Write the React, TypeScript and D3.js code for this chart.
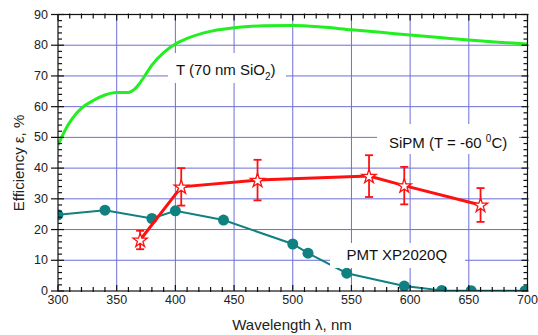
import React from "react";
import * as d3 from "d3";

// Transmission curve T (70 nm SiO2)
const tWave = [300, 303, 307, 312, 320, 330, 340, 350, 360, 365, 369, 373, 380, 390, 400, 410, 425, 450, 475, 500, 525, 550, 575, 600, 625, 650, 675, 700];
const tVal = [47.5, 50, 53, 56, 59.5, 62, 63.8, 64.6, 64.6, 65.6, 67.3, 69.5, 73.5, 77.6, 80.4, 82.2, 84.1, 85.7, 86.3, 86.4, 85.9, 85, 84.2, 83.3, 82.5, 81.7, 81, 80.4];

// SiPM (T = -60 C)
const sipmWave = [370, 405, 470, 565, 595, 660];
const sipmVal = [16.6, 33.9, 36.1, 37.4, 34.3, 28.0];
const sipmErr = [3.0, 6.1, 6.6, 6.8, 6.1, 5.5];

// PMT XP2020Q
const pmtWave = [300, 340, 380, 400, 441, 500, 513, 546, 595, 627, 652, 698];
const pmtVal = [24.8, 26.3, 23.6, 26.1, 23.1, 15.3, 12.3, 5.8, 1.6, 0.2, 0.1, 0.1];

const xTicks = [300, 350, 400, 450, 500, 550, 600, 650, 700];
const yTicks = [0, 10, 20, 30, 40, 50, 60, 70, 80, 90];

const W = 538;
const H = 335;
const FONT = "Arial, 'Liberation Sans', sans-serif";

export default function App() {
  const x = d3.scaleLinear().domain([300, 700]).range([58, 527.5]);
  const y = d3.scaleLinear().domain([0, 90]).range([291, 14.5]);
  const [x0, x1] = x.range();
  const [y0, y1] = y.range();

  const grid = "#6e6ed6";
  const green = "#22ee22";
  const red = "#ff1010";
  const teal = "#108080";

  const tLine = d3
    .line<number>()
    .x((_, i) => x(tWave[i]))
    .y((d) => y(d))
    .curve(d3.curveMonotoneX)(tVal) as string;

  const sLine = d3
    .line<number>()
    .x((_, i) => x(sipmWave[i]))
    .y((d) => y(d))(sipmVal) as string;

  const pLine = d3
    .line<number>()
    .x((_, i) => x(pmtWave[i]))
    .y((d) => y(d))(pmtVal) as string;

  const star = d3.symbol().type(d3.symbolStar).size(62)() as string;

  const minorX = d3.range(300, 701, 10).filter((v) => v % 50 !== 0);
  const minorY = d3.range(0, 91, 2).filter((v) => v % 10 !== 0);

  return (
    <svg width={W} height={H} style={{ position: "absolute", left: 0, top: 0, background: "#fff" }}>
      <defs>
        <clipPath id="plot">
          <rect x={x0} y={y1} width={x1 - x0} height={y0 - y1} />
        </clipPath>
      </defs>
      <rect width={W} height={H} fill="#fff" />

      {/* grid */}
      {xTicks.slice(1, -1).map((v) => (
        <line key={"gx" + v} x1={x(v)} x2={x(v)} y1={y1} y2={y0} stroke={grid} strokeWidth={1} />
      ))}
      {yTicks.slice(1, -1).map((v) => (
        <line key={"gy" + v} x1={x0} x2={x1} y1={y(v)} y2={y(v)} stroke={grid} strokeWidth={1} />
      ))}

      {/* data */}
      <g clipPath="url(#plot)">
        <path d={tLine} fill="none" stroke={green} strokeWidth={3} />
        <path d={pLine} fill="none" stroke={teal} strokeWidth={2} />
        {pmtWave.map((w, i) => (
          <circle key={"p" + i} cx={x(w)} cy={y(pmtVal[i])} r={5.5} fill={teal} />
        ))}
      </g>
      <path d={sLine} fill="none" stroke={red} strokeWidth={3} />
      {sipmWave.map((w, i) => {
        const cx = x(w);
        const top = y(sipmVal[i] + sipmErr[i]);
        const bot = y(sipmVal[i] - sipmErr[i]);
        return (
          <g key={"e" + i} stroke={red} strokeWidth={1.8}>
            <line x1={cx} x2={cx} y1={top} y2={bot} />
            <line x1={cx - 4} x2={cx + 4} y1={top} y2={top} />
            <line x1={cx - 4} x2={cx + 4} y1={bot} y2={bot} />
          </g>
        );
      })}
      {sipmWave.map((w, i) => (
        <path
          key={"s" + i}
          d={star}
          transform={`translate(${x(w)},${y(sipmVal[i]) + 0.5})`}
          fill="#fff"
          stroke={red}
          strokeWidth={1.3}
        />
      ))}

      {/* label boxes */}
      <rect x={168} y={53} width={118} height={30} fill="#fff" />
      <rect x={377} y={124} width={142} height={30} fill="#fff" />
      <rect x={330} y={243} width={135} height={25} fill="#fff" />

      <g fontFamily={FONT} fill="#111" fontSize={15}>
        <text x={176} y={75}>
          T (70 nm SiO<tspan fontSize={10} dy={5}>2</tspan>
          <tspan dy={-5}>)</tspan>
        </text>
        <text x={389} y={147.5}>
          SiPM (T = -60 <tspan fontSize={10} dy={-6}>0</tspan>
          <tspan dy={6}>C)</tspan>
        </text>
        <text x={346.5} y={259.5}>PMT XP2020Q</text>
      </g>

      {/* frame */}
      <rect x={x0} y={y1} width={x1 - x0} height={y0 - y1} fill="none" stroke="#111" strokeWidth={1.2} />

      {/* ticks */}
      <g stroke="#111" strokeWidth={1.2}>
        {xTicks.map((v) => (
          <g key={"tx" + v}>
            <line x1={x(v)} x2={x(v)} y1={y0} y2={y0 - 6} />
            <line x1={x(v)} x2={x(v)} y1={y1} y2={y1 + 6} />
          </g>
        ))}
        {minorX.map((v) => (
          <g key={"mx" + v}>
            <line x1={x(v)} x2={x(v)} y1={y0 + 1} y2={y0 - 4} />
            <line x1={x(v)} x2={x(v)} y1={y1 - 1} y2={y1 + 4} />
          </g>
        ))}
        {yTicks.map((v) => (
          <g key={"ty" + v}>
            <line x1={x0 - 7} x2={x0 + 6} y1={y(v)} y2={y(v)} />
            <line x1={x1 - 6} x2={x1 + 1} y1={y(v)} y2={y(v)} />
          </g>
        ))}
        {minorY.map((v) => (
          <g key={"my" + v}>
            <line x1={x0} x2={x0 + 4} y1={y(v)} y2={y(v)} />
            <line x1={x1 - 4} x2={x1} y1={y(v)} y2={y(v)} />
          </g>
        ))}
      </g>

      {/* tick labels */}
      <g fontFamily={FONT} fontSize={12.5} fill="#222">
        {xTicks.map((v) => (
          <text key={"lx" + v} x={x(v)} y={303.5} textAnchor="middle">
            {v}
          </text>
        ))}
        {yTicks.map((v) => (
          <text key={"ly" + v} x={48} y={y(v) + 4} textAnchor="end">
            {v}
          </text>
        ))}
      </g>

      {/* axis titles */}
      <g fontFamily={FONT} fontSize={15} fill="#222">
        <text x={292} y={330} textAnchor="middle">
          Wavelength λ, nm
        </text>
        <text transform="translate(24,163) rotate(-90)" textAnchor="middle">
          Efficiency ε,  %
        </text>
      </g>
    </svg>
  );
}
